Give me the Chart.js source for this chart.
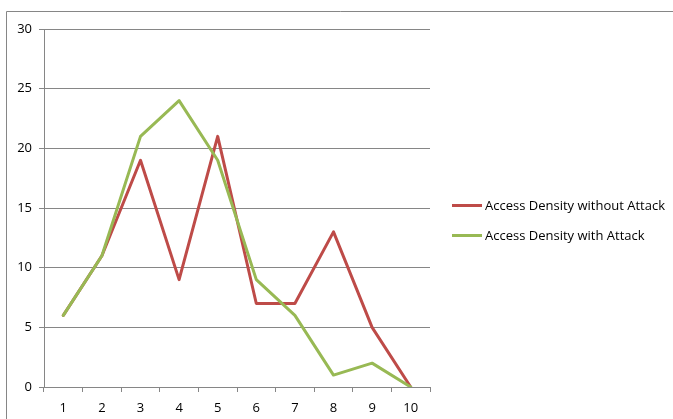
<!DOCTYPE html>
<html>
<head>
<meta charset="utf-8">
<script src="https://cdn.jsdelivr.net/npm/chart.js@4/dist/chart.umd.min.js"></script>
<style>
  html, body { margin: 0; padding: 0; background: #ffffff; }
  #wrap { position: relative; width: 673px; height: 419px; overflow: hidden; }
  #chart { position: absolute; left: 0; top: 0; }
  #legend { position: absolute; left: 452px; top: 197px; font: 13px "Open Sans", "Liberation Sans", sans-serif; color: #000; }
  .item { display: flex; align-items: center; height: 16px; margin-bottom: 14px; white-space: nowrap; }
  .swatch { width: 30px; height: 3px; margin-right: 3px; }
</style>
</head>
<body>
<div id="wrap">
  <canvas id="chart" width="673" height="419"></canvas>
  <div id="legend"></div>
</div>
<script>
// Access density per interval
const categories = ['1', '2', '3', '4', '5', '6', '7', '8', '9', '10'];
const withoutAttack = [6, 11, 19, 9, 21, 7, 7, 13, 5, 0];
const withAttack = [6, 11, 21, 24, 19, 9, 6, 1, 2, 0];
const seriesNames = ['Access Density without Attack', 'Access Density with Attack'];
const yTicks = { min: 0, max: 30, step: 5 };

const RED = '#BE4B48';
const GREEN = '#98B954';
const GRID = '#868686';
const FAMILY = '"Open Sans", "Liberation Sans", sans-serif';
const TICK_FONT = { family: FAMILY, size: 13 };

// Frame around the whole chart object
const frame = {
  id: 'frame',
  beforeDraw(chart) {
    const ctx = chart.ctx;
    ctx.save();
    ctx.strokeStyle = GRID;
    ctx.lineWidth = 1;
    ctx.beginPath();
    ctx.moveTo(6.5, 500);
    ctx.lineTo(6.5, 11.5);
    ctx.lineTo(700, 11.5);
    ctx.stroke();
    ctx.restore();
  }
};

// Legend on the right, one row per series
function buildLegend(chart) {
  const box = document.getElementById('legend');
  box.innerHTML = '';
  chart.data.datasets.forEach(ds => {
    const row = document.createElement('div');
    row.className = 'item';
    const sw = document.createElement('span');
    sw.className = 'swatch';
    sw.style.background = ds.borderColor;
    const txt = document.createElement('span');
    txt.textContent = ds.label;
    row.appendChild(sw);
    row.appendChild(txt);
    box.appendChild(row);
  });
}

function draw() {
  const chart = new Chart(document.getElementById('chart'), {
    type: 'line',
    data: {
      labels: categories,
      datasets: [
        {
          label: seriesNames[0],
          data: withoutAttack,
          borderColor: RED,
          backgroundColor: RED,
          borderWidth: 3,
          pointRadius: 0,
          tension: 0,
          fill: false,
          borderJoinStyle: 'round',
          borderCapStyle: 'round',
          order: 1
        },
        {
          label: seriesNames[1],
          data: withAttack,
          borderColor: GREEN,
          backgroundColor: GREEN,
          borderWidth: 3,
          pointRadius: 0,
          tension: 0,
          fill: false,
          borderJoinStyle: 'round',
          borderCapStyle: 'round',
          order: 0
        }
      ]
    },
    options: {
      responsive: false,
      devicePixelRatio: 1,
      animation: false,
      layout: { padding: { top: 29, bottom: 0, left: 0, right: 243 } },
      plugins: {
        tooltip: { enabled: false },
        legend: { display: false }
      },
      scales: {
        x: {
          offset: true,
          grid: {
            offset: true,
            drawOnChartArea: false,
            drawTicks: true,
            tickLength: 5,
            color: GRID
          },
          border: { display: true, color: GRID, width: 1 },
          ticks: { color: '#000000', font: TICK_FONT, padding: 8, maxRotation: 0, autoSkip: false },
          afterFit(scale) { scale.height = 32; }
        },
        y: {
          min: yTicks.min,
          max: yTicks.max,
          grid: {
            drawOnChartArea: true,
            drawTicks: true,
            tickLength: 5,
            color: GRID
          },
          border: { display: true, color: GRID, width: 1 },
          ticks: { stepSize: yTicks.step, color: '#000000', font: TICK_FONT, padding: 7 },
          afterFit(scale) { scale.width = 44; }
        }
      }
    },
    plugins: [frame]
  });
  buildLegend(chart);
}

Promise.all([
  document.fonts.load('13px "Open Sans"')
]).then(draw, draw);
</script>
</body>
</html>
